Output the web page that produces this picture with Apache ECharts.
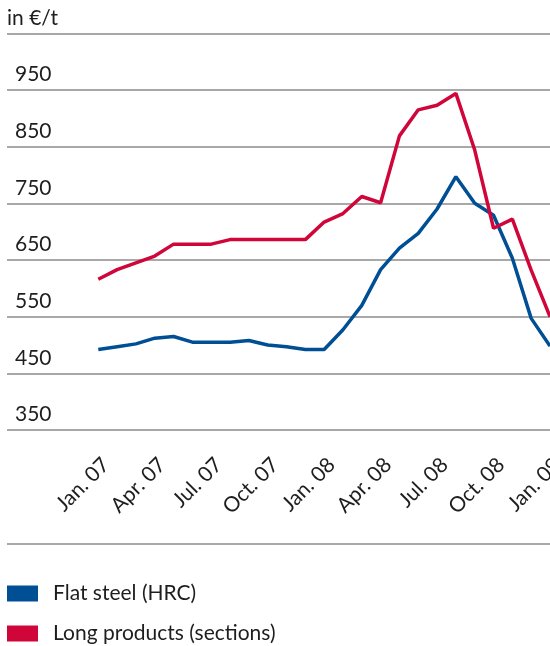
<!DOCTYPE html>
<html>
<head>
<meta charset="utf-8">
<script src="https://cdn.jsdelivr.net/npm/echarts@6/dist/echarts.min.js"></script>
<style>html,body{margin:0;padding:0;background:#fff}#c{width:550px;height:646px}</style>
</head>
<body>
<div id="c"></div>
<script>
const months = ['Jan. 07','Feb. 07','Mar. 07','Apr. 07','May 07','Jun. 07','Jul. 07','Aug. 07','Sep. 07','Oct. 07','Nov. 07','Dec. 07',
  'Jan. 08','Feb. 08','Mar. 08','Apr. 08','May 08','Jun. 08','Jul. 08','Aug. 08','Sep. 08','Oct. 08','Nov. 08','Dec. 08','Jan. 09'];
const flatSteel = [492,497,502,512,515,505,505,505,508,500,497,492,492,527,570,633,671,697,740,797,750,729,653,547,498];
const longProducts = [616,633,645,657,678,678,678,686,686,686,686,686,717,732,762,751,869,915,923,944,844,706,722,632,550];
const yTicks = {min:350, max:1050, step:100};
const unitLabel = 'in €/t';
const seriesNames = ['Flat steel (HRC)','Long products (sections)'];
const colors = ['#004f95','#d0063a'];

const FONT = 'Lato';
const chart = echarts.init(document.getElementById('c'), null, {renderer:'canvas'});
const gridTop = 33.33, gridBottomY = 430;
const legendBase = {left:7,icon:'rect',itemWidth:31,itemHeight:16,padding:0,
  textStyle:{fontSize:21,color:'#1e1e1e',fontFamily:FONT,padding:[0,0,0,10]}};
chart.setOption({
  animation:false,
  textStyle:{fontFamily:FONT},
  title:{text:unitLabel,left:7,top:8,padding:0,textStyle:{fontFamily:FONT,fontSize:21,fontWeight:'normal',color:'#1e1e1e'}},
  grid:[
    {left:7,right:0,top:gridTop,height:gridBottomY-gridTop,containLabel:false,outerBoundsMode:'none'},
    {left:98.3,right:0,top:gridTop,height:gridBottomY-gridTop,containLabel:false,outerBoundsMode:'none'}
  ],
  xAxis:[
    {gridIndex:0,type:'value',min:0,max:1,show:false},
    {gridIndex:1,type:'category',data:months,boundaryGap:false,
     axisLine:{show:false},axisTick:{show:false},splitLine:{show:false},
     axisLabel:{interval:2,rotate:45,margin:24,verticalAlign:'top',fontSize:21,color:'#1e1e1e',fontFamily:FONT}}
  ],
  yAxis:[
    {gridIndex:0,type:'value',min:yTicks.min,max:yTicks.max,interval:yTicks.step,
     axisLine:{show:false},axisTick:{show:false},
     splitLine:{show:true,showMinLine:true,showMaxLine:true,lineStyle:{color:'#a8a8a8',width:2}},
     axisLabel:{inside:true,align:'left',verticalAlign:'bottom',padding:[0,0,5,0],fontSize:21,color:'#1e1e1e',fontFamily:FONT,
       formatter:v=> v===yTicks.max ? '' : String(v)}},
    {gridIndex:1,type:'value',min:yTicks.min,max:yTicks.max,interval:yTicks.step,show:false}
  ],
  legend:[
    Object.assign({}, legendBase, {top:583, data:[seriesNames[0]]}),
    Object.assign({}, legendBase, {top:623, data:[seriesNames[1]]})
  ],
  graphic:[{type:'line',shape:{x1:7,y1:544,x2:550,y2:544},style:{stroke:'#a8a8a8',lineWidth:2}}],
  series:[
    {name:seriesNames[0],type:'line',xAxisIndex:1,yAxisIndex:1,data:flatSteel,symbol:'none',
     color:colors[0],lineStyle:{width:3.5,color:colors[0]}},
    {name:seriesNames[1],type:'line',xAxisIndex:1,yAxisIndex:1,data:longProducts,symbol:'none',
     color:colors[1],lineStyle:{width:3.5,color:colors[1]}}
  ]
});
</script>
</body>
</html>
